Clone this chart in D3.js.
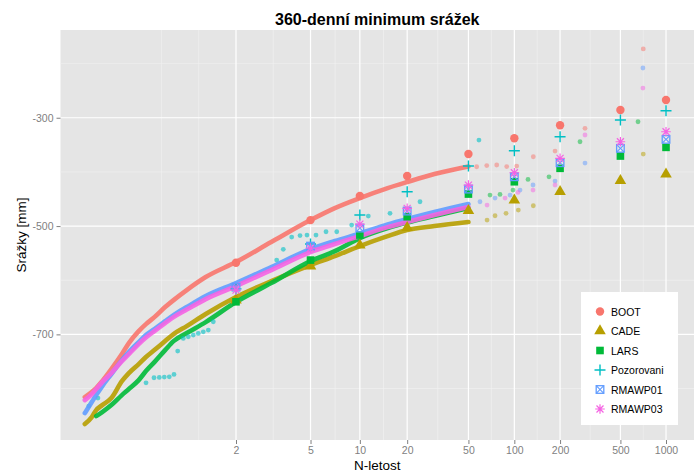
<!DOCTYPE html>
<html>
<head>
<meta charset="utf-8">
<script src="https://cdn.jsdelivr.net/npm/d3@7"></script>
<style>
body { margin: 0; background: #fff; }
text { font-family: "Liberation Sans", Arial, sans-serif; }
</style>
</head>
<body>
<div id="chart"></div>
<script>
// series names, colours and shapes (ggplot default hue palette)
var seriesNames = ["BOOT", "CADE", "LARS", "Pozorovani", "RMAWP01", "RMAWP03"];
var seriesColors = ["#F8766D", "#B79F00", "#00BA38", "#00BFC4", "#619CFF", "#F564E3"];
var seriesShapes = ["circle", "triangle", "square", "plus", "squarex", "asterisk"];

// axis ticks
var xTicks = [2, 5, 10, 20, 50, 100, 200, 500, 1000];
var yTicks = [-300, -500, -700];
var yMinor = [-200, -400, -600, -800];

// return periods for the dense simulated curves
var denseT = [1.001, 1.002, 1.003, 1.005, 1.01, 1.02, 1.03, 1.05, 1.07, 1.1, 1.15, 1.2, 1.3, 1.5, 2, 3, 5, 7, 10, 15, 20, 30, 50];

var bootDense = [-815.8, -806.6, -799.2, -786.3, -764.1, -736.4, -716.1, -693.9, -681.0, -668.1, -649.6, -636.7, -618.2, -594.2, -566.5, -529.5, -488.9, -466.8, -448.3, -429.9, -418.7, -404.0, -390.1];
var cadeDense = [-865.6, -852.7, -839.8, -830.6, -817.6, -786.3, -771.5, -754.8, -741.9, -729.0, -712.4, -699.5, -684.7, -662.5, -631.1, -601.6, -572.0, -555.4, -536.9, -518.5, -507.4, -500.0, -492.6];
var larsDense = [null, null, -850.9, -843.5, -830.6, -812.1, -801.0, -784.4, -767.8, -751.2, -729.0, -712.4, -697.6, -677.3, -640.3, -605.3, -564.7, -546.2, -522.2, -503.7, -493.5, -481.5, -466.8];
var rmawp01Dense = [-845.3, -825.0, -812.1, -795.5, -773.3, -747.5, -732.7, -714.3, -701.3, -690.2, -675.5, -664.4, -649.6, -629.3, -605.3, -575.7, -542.5, -527.7, -513.8, -497.2, -487.1, -474.1, -459.4];
var rmawp03Dense = [-821.3, -810.2, -801.0, -788.1, -771.5, -749.4, -736.4, -717.9, -705.9, -693.9, -679.2, -668.1, -654.2, -634.8, -610.8, -581.3, -548.0, -533.2, -518.5, -501.9, -492.6, -479.7, -464.9];

// sparse upper tails of the simulated series
var bootTailT = [56.6, 65.9, 76.6, 89.1, 103.6, 133.3, 185.3, 292, 707.6];
var bootTailV = [-390.5, -388.3, -387.3, -390.1, -389.2, -372.0, -361.5, -319.6, -173.0];
var cadeTailT = [66.2, 74.7, 88.2, 106.2, 133.3, 707.6];
var cadeTailV = [-488.9, -481.0, -476.5, -470.4, -462.5, -367.0];
var larsTailT = [69.2, 80.5, 98, 123, 169.1, 270.7, 653.5];
var larsTailV = [-442.7, -441.5, -433.5, -413.8, -409.0, -344.3, -307.4];
var rmawp01TailT = [59.5, 74.7, 93.7, 109, 132.7, 185.3, 292, 704];
var rmawp01TailV = [-455.1, -448.3, -442.7, -433.5, -424.2, -416.9, -383.7, -208.2];
var rmawp03TailT = [66.2, 86.9, 105.7, 132.7, 185.3, 292, 704];
var rmawp03TailV = [-461.2, -448.3, -437.9, -433.5, -424.2, -331.9, -245.2];

// observed values
var pozT = [1.0015, 1.0035, 1.0702, 1.0984, 1.121, 1.1455, 1.1734, 1.2028, 1.2283, 1.2710, 1.3139, 1.3609, 1.4130, 1.4702, 1.5331, 1.6018, 3.210, 3.490, 3.891, 4.342, 4.766, 5.388, 6.188, 7.189, 8.889, 11.30, 15.52, 24.2, 58.6];
var pozV = [-832.4, -817.6, -789.4, -780.1, -779.4, -778.8, -778.3, -773.9, -730.8, -707.4, -704.4, -701.3, -698.2, -695.2, -692.1, -676.7, -562.8, -543.0, -520.3, -517.5, -516.6, -516.6, -510.5, -510.5, -498.2, -481.5, -476.5, -455.1, -341.2];

// fitted quantiles at the tick return periods
var quantT = [2, 5, 10, 20, 50, 100, 200, 500, 1000];
var bootQ = [-567.7, -489.0, -444.6, -407.7, -367.0, -338.0, -314.0, -285.8, -267.3];
var cadeQ = [-636.6, -574.0, -535.1, -502.8, -471.7, -452.0, -436.7, -416.3, -404.0];
var larsQ = [-639.8, -562.8, -516.6, -482.8, -440.9, -418.2, -393.4, -370.7, -354.7];
var pozQ = [-616.0, -533.0, -479.7, -436.7, -389.2, -360.9, -335.1, -304.2, -287.1];
var rmawp01Q = [-612.7, -537.0, -503.7, -472.3, -431.7, -409.0, -383.1, -356.5, -339.9];
var rmawp03Q = [-618.2, -540.6, -496.3, -467.3, -424.3, -401.6, -375.0, -344.3, -325.9];

var W = 698, H = 473;
var pan = { left: 60.5, right: 694, top: 30, bottom: 440 };

// Gumbel reduced variate of the return period
function gumbel(T) { return -Math.log(-Math.log(1 - 1 / T)); }

var x = d3.scaleLinear().domain([-2.303, 7.333]).range([pan.left, pan.right]);
var y = d3.scaleLinear().domain([-895, -138]).range([pan.bottom, pan.top]);
function xT(T) { return x(gumbel(T)); }

var svg = d3.select("#chart").append("svg")
  .attr("width", W).attr("height", H);

// panel
svg.append("rect")
  .attr("x", pan.left).attr("y", pan.top)
  .attr("width", pan.right - pan.left).attr("height", pan.bottom - pan.top)
  .attr("fill", "#E5E5E5");

// minor grid
var gMaj = xTicks.map(gumbel);
var gMin = [gMaj[0] - (gMaj[1] - gMaj[0]), gMaj[0] - (gMaj[1] - gMaj[0]) / 2];
for (var i = 0; i < gMaj.length - 1; i++) gMin.push((gMaj[i] + gMaj[i + 1]) / 2);

var grid = svg.append("g");
grid.selectAll(".xmin").data(gMin).enter().append("line")
  .attr("x1", d => x(d)).attr("x2", d => x(d))
  .attr("y1", pan.top).attr("y2", pan.bottom)
  .attr("stroke", "#F2F2F2").attr("stroke-width", 0.6);
grid.selectAll(".ymin").data(yMinor).enter().append("line")
  .attr("x1", pan.left).attr("x2", pan.right)
  .attr("y1", d => y(d)).attr("y2", d => y(d))
  .attr("stroke", "#F2F2F2").attr("stroke-width", 0.6);
grid.selectAll(".xmaj").data(gMaj).enter().append("line")
  .attr("x1", d => x(d)).attr("x2", d => x(d))
  .attr("y1", pan.top).attr("y2", pan.bottom)
  .attr("stroke", "#fff").attr("stroke-width", 1.2);
grid.selectAll(".ymaj").data(yTicks).enter().append("line")
  .attr("x1", pan.left).attr("x2", pan.right)
  .attr("y1", d => y(d)).attr("y2", d => y(d))
  .attr("stroke", "#fff").attr("stroke-width", 1.2);

// axes
var xAxis = svg.append("g")
  .attr("transform", "translate(0," + pan.bottom + ")")
  .call(d3.axisBottom(x).tickValues(gMaj).tickFormat((d, i) => xTicks[i]).tickSize(4).tickPadding(3));
var yAxis = svg.append("g")
  .attr("transform", "translate(" + pan.left + ",0)")
  .call(d3.axisLeft(y).tickValues(yTicks).tickFormat(d => d).tickSize(4).tickPadding(3));
[xAxis, yAxis].forEach(function(a) {
  a.select(".domain").remove();
  a.selectAll("line").attr("stroke", "#7F7F7F");
  a.selectAll("text").attr("fill", "#7F7F7F").style("font-size", "10.5px")
    .style("font-family", "'Liberation Sans', Arial, sans-serif");
});

var plot = svg.append("g");

// dense simulated curves
var denseSets = [
  { v: bootDense, c: seriesColors[0] },
  { v: cadeDense, c: seriesColors[1] },
  { v: larsDense, c: seriesColors[2] },
  { v: rmawp01Dense, c: seriesColors[4] },
  { v: rmawp03Dense, c: seriesColors[5] }
];
var line = d3.line()
  .defined(d => d[1] !== null)
  .x(d => xT(d[0])).y(d => y(d[1]))
  .curve(d3.curveMonotoneX);

// tails
var tailSets = [
  { t: bootTailT, v: bootTailV, c: seriesColors[0] },
  { t: cadeTailT, v: cadeTailV, c: seriesColors[1] },
  { t: larsTailT, v: larsTailV, c: seriesColors[2] },
  { t: rmawp01TailT, v: rmawp01TailV, c: seriesColors[4] },
  { t: rmawp03TailT, v: rmawp03TailV, c: seriesColors[5] }
];

function drawDense(k) {
  var s = denseSets[k];
  plot.append("path")
    .datum(denseT.map((t, i) => [t, s.v[i]]))
    .attr("d", line)
    .attr("fill", "none")
    .attr("stroke", s.c)
    .attr("stroke-width", 4.6)
    .attr("stroke-linecap", "round")
    .attr("stroke-linejoin", "round")
    .attr("opacity", 0.9);
  var tl = tailSets[k];
  plot.append("g").selectAll("circle")
    .data(tl.t.map((t, i) => [t, tl.v[i]]))
    .enter().append("circle")
    .attr("cx", d => xT(d[0])).attr("cy", d => y(d[1]))
    .attr("r", 2.4)
    .attr("fill", tl.c).attr("opacity", 0.5);
}

drawDense(0);
drawDense(1);
drawDense(2);

// observed points
plot.append("g").selectAll("circle")
  .data(pozT.map((t, i) => [t, pozV[i]]))
  .enter().append("circle")
  .attr("cx", d => xT(d[0])).attr("cy", d => y(d[1]))
  .attr("r", 2.4)
  .attr("fill", seriesColors[3]).attr("opacity", 0.6);

drawDense(3);
drawDense(4);

// marker shapes
function drawShape(g, shape, cx, cy, col) {
  var m = g.append("g").attr("transform", "translate(" + cx + "," + cy + ")");
  if (shape === "circle") {
    m.append("circle").attr("r", 4.2).attr("fill", col);
  } else if (shape === "triangle") {
    m.append("path").attr("d", d3.symbol(d3.symbolTriangle, 58)()).attr("fill", col);
  } else if (shape === "square") {
    m.append("rect").attr("x", -3.8).attr("y", -3.8).attr("width", 7.6).attr("height", 7.6).attr("fill", col);
  } else if (shape === "plus") {
    m.append("path").attr("d", "M-5.5,0H5.5M0,-5.5V5.5").attr("stroke", col).attr("stroke-width", 1.4);
  } else if (shape === "squarex") {
    m.append("rect").attr("x", -3.8).attr("y", -3.8).attr("width", 7.6).attr("height", 7.6)
      .attr("fill", "none").attr("stroke", col).attr("stroke-width", 1.3);
    m.append("path").attr("d", "M-3.8,-3.8L3.8,3.8M-3.8,3.8L3.8,-3.8").attr("stroke", col).attr("stroke-width", 1.1);
  } else if (shape === "asterisk") {
    m.append("path").attr("d", "M-4.8,0H4.8M0,-4.8V4.8M-3.5,-3.5L3.5,3.5M-3.5,3.5L3.5,-3.5")
      .attr("stroke", col).attr("stroke-width", 1.2);
  }
}

var quantSets = [bootQ, cadeQ, larsQ, pozQ, rmawp01Q, rmawp03Q];
var markers = svg.append("g");
quantSets.forEach(function(q, k) {
  q.forEach(function(v, i) {
    drawShape(markers, seriesShapes[k], xT(quantT[i]), y(v), seriesColors[k]);
  });
});

// legend
var legend = svg.append("g");
legend.append("rect")
  .attr("x", 581).attr("y", 292).attr("width", 97).attr("height", 133)
  .attr("fill", "#fff");
seriesNames.forEach(function(name, k) {
  var ly = 311.5 + k * 19.5;
  drawShape(legend, seriesShapes[k], 600, ly, seriesColors[k]);
  legend.append("text")
    .attr("x", 611).attr("y", ly + 4)
    .style("font-size", "10.5px")
    .attr("fill", "#000")
    .text(name);
});

// titles
svg.append("text")
  .attr("x", (pan.left + pan.right) / 2).attr("y", 25)
  .attr("text-anchor", "middle")
  .style("font-size", "16px").style("font-weight", "bold")
  .text("360-denní minimum srážek");

svg.append("text")
  .attr("x", (pan.left + pan.right) / 2).attr("y", 470)
  .attr("text-anchor", "middle")
  .style("font-size", "13.5px")
  .text("N-letost");

svg.append("text")
  .attr("transform", "translate(26," + (pan.top + pan.bottom) / 2 + ") rotate(-90)")
  .attr("text-anchor", "middle")
  .style("font-size", "13.5px")
  .text("Srážky [mm]");
</script>
</body>
</html>
